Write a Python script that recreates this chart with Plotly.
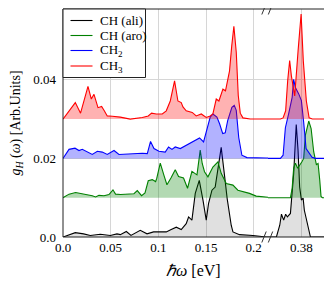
import plotly.graph_objects as go

# ---------------- data (energies in eV, DOS in arb. units above each baseline) ----------------
names = ["CH (ali)", "CH (aro)", "CH<sub>2</sub>", "CH<sub>3</sub>"]
offsets = [0.0, 0.01, 0.02, 0.03]

ali_x = [0, 0.0042, 0.0129, 0.0216, 0.0286, 0.0391, 0.0496, 0.0566, 0.0601, 0.0664,
         0.0713, 0.081, 0.0881, 0.095, 0.102, 0.1083, 0.1135, 0.1188, 0.124, 0.1292,
         0.1317, 0.1352, 0.1387, 0.1429, 0.1468, 0.1502, 0.1526, 0.1562, 0.1596, 0.1631,
         0.1659, 0.1694, 0.1722, 0.1764, 0.1782, 0.1851, 0.1992, 0.2131, 0.215,
         0.345, 0.3538, 0.3573, 0.3591, 0.3614, 0.3635, 0.3653, 0.3685, 0.3719, 0.3746,
         0.3765, 0.3782, 0.38, 0.3818, 0.3831, 0.386, 0.3884, 0.3895, 0.41]
ali_y = [0, 0.0004, 0.0011, 0.0008, 0.0004, 0.0007, 0.0004, 0.0008, 0.0006, 0.0014,
         0.0004, 0.0017, 0.0008, 0.0013, 0.0013, 0.0013, 0.0019, 0.0025, 0.0019, 0.0034,
         0.0051, 0.0043, 0.0111, 0.0144, 0.0094, 0.0043, 0.0085, 0.0119, 0.0127, 0.0178,
         0.0228, 0.0156, 0.0097, 0.003, 0.0013, 0.0006, 0.0004, 0.0, 0.0,
         0.0, 0.0, 0.003, 0.0058, 0.0043, 0.0058, 0.0051, 0.006, 0.0161, 0.0286,
         0.022, 0.0127, 0.0094, 0.0099, 0.0068, 0.0035, 0.0005, 0.0, 0.0]

aro_x = [0, 0.0063, 0.0132, 0.0202, 0.0255, 0.0307, 0.0342, 0.0377, 0.043, 0.0482,
         0.0524, 0.0551, 0.0604, 0.0692, 0.0744, 0.0779, 0.0824, 0.086, 0.0894, 0.0936,
         0.0971, 0.0983, 0.102, 0.1062, 0.109, 0.1132, 0.1177, 0.1212, 0.1264, 0.1306,
         0.1352, 0.1405, 0.1439, 0.146, 0.1484, 0.152, 0.1572, 0.1625, 0.1659, 0.1712,
         0.1782, 0.1834, 0.1904, 0.1956, 0.2026, 0.2096, 0.2131, 0.215,
         0.345, 0.3685, 0.3703, 0.3719, 0.3737, 0.3761, 0.3807, 0.3824, 0.3842, 0.3877,
         0.3902, 0.3929, 0.3957, 0.3975, 0.3992, 0.4006, 0.402, 0.41]
aro_y = [0, 0.0009, 0.0013, 0.001, 0.0009, 0.0005, 0.0002, 0.0006, 0.0005, 0.0008,
         0.002, 0.0009, 0.0008, 0.001, 0.001, 0.0018, 0.0005, 0.0012, 0.0043, 0.0046,
         0.0041, 0.0049, 0.0088, 0.0054, 0.0033, 0.005, 0.0071, 0.0054, 0.005, 0.0024,
         0.0067, 0.0058, 0.0121, 0.0087, 0.0066, 0.0053, 0.0078, 0.0091, 0.0062, 0.0036,
         0.0032, 0.0019, 0.0015, 0.0011, 0.0004, 0.0003, 0.0001, 0.0001,
         0.0, 0.0, 0.0024, 0.0075, 0.0088, 0.0075, 0.0092, 0.01, 0.0159, 0.0195,
         0.0176, 0.0117, 0.0084, 0.0087, 0.0046, 0.0003, 0.0, 0.0]

ch2_x = [0, 0.0063, 0.0126, 0.0168, 0.0202, 0.0255, 0.0307, 0.036, 0.0412, 0.0464,
         0.0535, 0.0587, 0.0692, 0.0831, 0.0884, 0.0918, 0.0954, 0.1006, 0.1072, 0.1107,
         0.1143, 0.1177, 0.123, 0.13, 0.1369, 0.1432, 0.1474, 0.1509, 0.1544, 0.1572,
         0.1614, 0.1642, 0.1675, 0.1701, 0.1727, 0.1771, 0.1796, 0.1817, 0.1843, 0.1876,
         0.1929, 0.2131, 0.215,
         0.345, 0.358, 0.3608, 0.3632, 0.3666, 0.3703, 0.3719, 0.3737, 0.3772, 0.38,
         0.3824, 0.3849, 0.3912, 0.3947, 0.41]
ch2_y = [0, 0.0023, 0.0026, 0.002, 0.0023, 0.0016, 0.001, 0.0018, 0.0016, 0.001,
         0.002, 0.001, 0.0012, 0.0013, 0.0012, 0.0043, 0.0025, 0.0018, 0.0016, 0.0029,
         0.0023, 0.0029, 0.0025, 0.0034, 0.0042, 0.0052, 0.0042, 0.0071, 0.0105, 0.0113,
         0.0105, 0.0088, 0.0063, 0.0065, 0.0096, 0.013, 0.0135, 0.0122, 0.0053, 0.0008,
         0.0002, 0.0001, 0.0001,
         0.0, 0.0, 0.0008, 0.0078, 0.0113, 0.0155, 0.0201, 0.018, 0.0164, 0.0147,
         0.0092, 0.0025, 0.0003, 0.0, 0.0]

ch3_x = [0, 0.0063, 0.0129, 0.0184, 0.0262, 0.0297, 0.0325, 0.0367, 0.0405, 0.0433,
         0.0464, 0.0517, 0.0601, 0.0705, 0.0779, 0.0831, 0.0894, 0.0929, 0.0978, 0.1041,
         0.1083, 0.1125, 0.117, 0.1205, 0.124, 0.1258, 0.1292, 0.1355, 0.1397, 0.145,
         0.1502, 0.1544, 0.1572, 0.1607, 0.1635, 0.1677, 0.1704, 0.1746, 0.1769, 0.1792,
         0.1817, 0.1838, 0.1859, 0.1887, 0.1963, 0.215,
         0.345, 0.358, 0.3608, 0.3635, 0.3656, 0.3677, 0.3695, 0.373, 0.3765, 0.3797,
         0.382, 0.3852, 0.3881, 0.3915, 0.41]
ch3_y = [0, 0.0021, 0.0042, 0.0015, 0.0083, 0.0051, 0.0063, 0.0029, 0.0032, 0.0021,
         0.0008, 0.0007, 0.0005, 0.0, 0.0002, 0.0004, 0.0008, 0.0015, 0.0013, 0.0013,
         0.0021, 0.0046, 0.0097, 0.0046, 0.0042, 0.0031, 0.0021, 0.0017, 0.0008, 0.0013,
         0.0004, 0.0008, 0.0013, 0.0051, 0.0046, 0.0076, 0.0072, 0.0122, 0.0185, 0.0236,
         0.017, 0.006, 0.0015, 0.0003, 0.0, 0.0,
         0.0, 0.0, 0.0003, 0.0021, 0.0097, 0.0149, 0.011, 0.0059, 0.0173, 0.0267,
         0.0148, 0.0046, 0.0003, 0.0, 0.0]

xs = [ali_x, aro_x, ch2_x, ch3_x]
ys = [ali_y, aro_y, ch2_y, ch3_y]

line_colors = ["#000000", "#008000", "#0000ff", "#ff0000"]
fill_colors = ["rgba(0,0,0,0.12)", "rgba(0,128,0,0.3)", "rgba(0,0,255,0.3)", "rgba(255,0,0,0.3)"]

left_range = [0.0, 0.215]
right_range = [0.345, 0.41]
y_range = [0.0, 0.058]

xtick_vals_left = [0.0, 0.05, 0.1, 0.15, 0.2]
xtick_text_left = ["0.0", "0.05", "0.1", "0.15", "0.2"]
xtick_vals_right = [0.38]
xtick_text_right = ["0.38"]
ytick_vals = [0.0, 0.02, 0.04]
ytick_text = ["0.0", "0.02", "0.04"]
x_title = "<i>ℏω</i> [eV]"
y_title = "<i>g</i><sub><i>H</i></sub> (<i>ω</i>) [Arb.Units]"

FONT = "Liberation Serif"

# ---------------- figure ----------------
fig = go.Figure()
for xa, ya in (("x", "y"), ("x2", "y2")):
    for i in range(4):
        off = offsets[i]
        fig.add_trace(go.Scatter(x=[xs[i][0], xs[i][-1]], y=[off, off], mode="lines",
                                 line=dict(width=0, color="rgba(0,0,0,0)"),
                                 showlegend=False, hoverinfo="skip", xaxis=xa, yaxis=ya))
        fig.add_trace(go.Scatter(x=xs[i], y=[v + off for v in ys[i]], mode="lines",
                                 line=dict(color=line_colors[i], width=1.1),
                                 fill="tonexty", fillcolor=fill_colors[i],
                                 name=names[i], showlegend=False, xaxis=xa, yaxis=ya))

w_left = left_range[1] - left_range[0]
w_right = right_range[1] - right_range[0]
split = w_left / (w_left + w_right)

grid = "#d6d6d6"
axis_common = dict(showline=False, zeroline=False, showgrid=True, gridcolor=grid, gridwidth=1,
                   ticks="", automargin=False,
                   tickfont=dict(family=FONT, size=13, color="black"))

# the page body adds an 8 px margin, so the figure is sized/margined to compensate
fig.update_layout(
    width=324, height=277,
    margin=dict(l=55, r=2, t=1, b=48),
    paper_bgcolor="white", plot_bgcolor="white",
    font=dict(family=FONT, size=13, color="black"),
    showlegend=False,
    xaxis=dict(domain=[0, split], range=left_range, tickvals=xtick_vals_left,
               ticktext=xtick_text_left, ticklabelstandoff=1, anchor="y",
               **axis_common),
    xaxis2=dict(domain=[split, 1], range=right_range, tickvals=xtick_vals_right,
                ticktext=xtick_text_right, ticklabelstandoff=1, anchor="y2", **axis_common),
    yaxis=dict(domain=[0, 1], range=y_range, tickvals=ytick_vals, ticktext=ytick_text,
               anchor="x", ticklabelstandoff=6,
               title=dict(text=y_title, font=dict(family=FONT, size=14), standoff=11),
               **axis_common),
    yaxis2=dict(domain=[0, 1], range=y_range, tickvals=ytick_vals, showticklabels=False,
                anchor="x2", **axis_common),
)

pw, ph = 267.0, 228.0

# x-axis title centred under the whole (broken) axis
fig.add_annotation(xref="paper", yref="paper", x=0.49, y=-33.0 / ph, text=x_title,
                   showarrow=False, xanchor="center", yanchor="middle",
                   font=dict(family=FONT, size=16, color="black"))

# frame
fig.add_shape(type="rect", xref="paper", yref="paper", x0=0, x1=1, y0=0, y1=1,
              line=dict(color="#222222", width=1))

# legend box (drawn by hand to match the compact reference legend)
fig.add_shape(type="rect", xref="paper", yref="paper", x0=0, x1=82.5 / pw, y0=1 - 68.5 / ph, y1=1,
              line=dict(color="#222222", width=1), fillcolor="white", layer="above")
leg_rows = [11.5, 26.5, 41.5, 57.0]
for i in range(4):
    yy = 1 - leg_rows[i] / ph
    fig.add_shape(type="line", xref="paper", yref="paper", x0=7.5 / pw, x1=29.5 / pw, y0=yy, y1=yy,
                  line=dict(color=line_colors[i], width=1.1), layer="above")
    fig.add_annotation(xref="paper", yref="paper", x=35.0 / pw, y=yy, text=names[i],
                       showarrow=False, xanchor="left", yanchor="middle",
                       font=dict(family=FONT, size=13, color="black"))

# break marks "//"
for cx in (split - 4.0 / pw, split + 2.5 / pw):
    for cy in (0.0, 1.0):
        fig.add_shape(type="line", xref="paper", yref="paper",
                      x0=cx - 2.2 / pw, x1=cx + 2.2 / pw,
                      y0=cy - 5.5 / ph, y1=cy + 5.5 / ph,
                      line=dict(color="#333333", width=1))

fig.write_html("out.html")
